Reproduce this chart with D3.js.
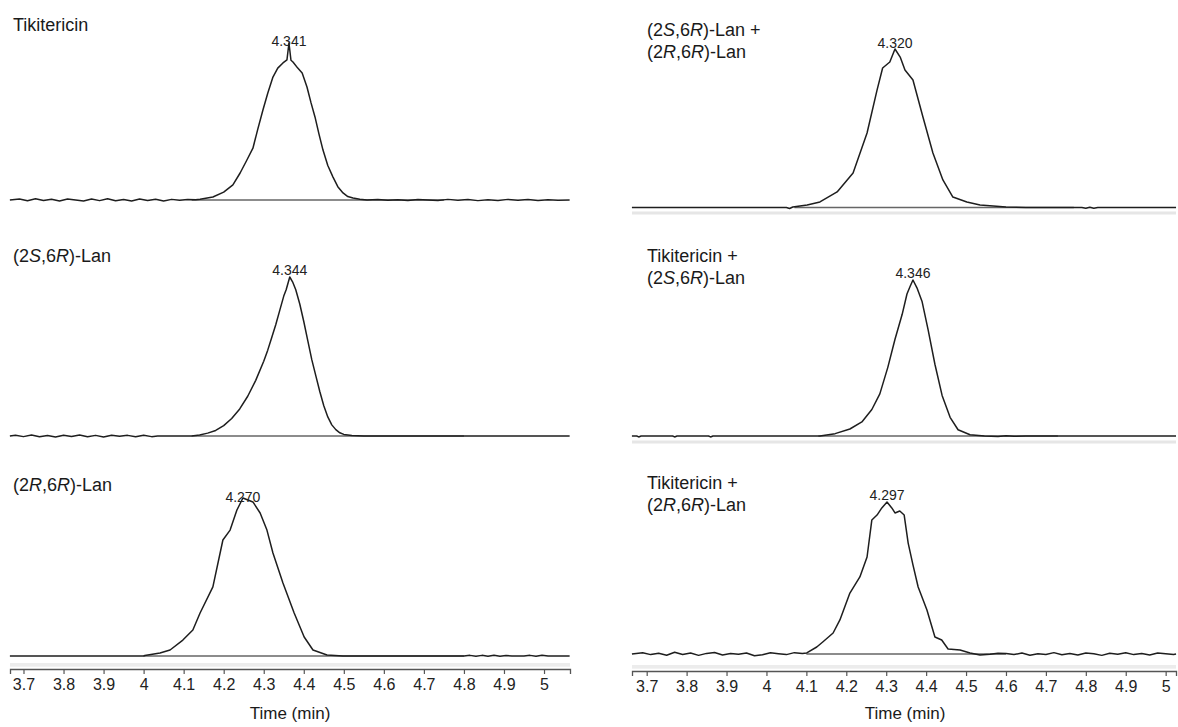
<!DOCTYPE html>
<html>
<head>
<meta charset="utf-8">
<script src="https://cdn.jsdelivr.net/npm/d3@7"></script>
<style>
  body { margin: 0; background: #fff; }
  text { font-family: "Liberation Sans", Arial, sans-serif; }
</style>
</head>
<body>
<svg id="chart" width="1178" height="727"></svg>
<script>
// tick labels of the time axis (min)
const timeTicks = [3.7, 3.8, 3.9, 4.0, 4.1, 4.2, 4.3, 4.4, 4.5, 4.6, 4.7, 4.8, 4.9, 5.0];

// traces: [time (min), relative intensity (%)]
const traceTik = [
  [3.666, 0], [3.69, 0.6], [3.71, -0.5], [3.73, 0.8], [3.75, -0.3], [3.77, 0.5], [3.79, -0.6], [3.81, 0.7],
  [3.83, 0], [3.85, -0.7], [3.87, 0.6], [3.89, -0.4], [3.91, 0.8], [3.93, -0.5], [3.95, 0.3], [3.97, -0.7],
  [3.99, 0.6], [4.01, -0.3], [4.03, 0.5], [4.05, -0.6], [4.07, 0.4], [4.09, -0.2], [4.11, 0.3], [4.13, 0.2],
  [4.141, 0.5], [4.173, 1.9], [4.2, 5], [4.223, 9.6], [4.241, 17.2], [4.257, 25], [4.273, 33], [4.285, 45],
  [4.298, 57.3], [4.31, 68], [4.323, 78.3], [4.335, 84], [4.348, 87.3], [4.358, 89.2], [4.363, 100],
  [4.368, 89], [4.373, 87.9], [4.385, 84], [4.396, 80.9], [4.408, 72], [4.418, 62], [4.428, 52.9],
  [4.438, 42], [4.448, 31.8], [4.46, 22], [4.473, 14.6], [4.485, 8.5], [4.498, 4.5], [4.51, 2.2],
  [4.523, 1.3], [4.54, 0.5], [4.558, 0], [4.585, 0.3], [4.61, -0.2], [4.635, 0.2], [4.66, -0.3],
  [4.685, 0.3], [4.71, 0], [4.735, -0.3], [4.76, 0.4], [4.785, -0.2], [4.81, 0.3], [4.835, -0.4],
  [4.86, 0.2], [4.885, -0.3], [4.91, 0.4], [4.935, -0.2], [4.96, 0.3], [4.985, -0.3], [5.01, 0.2],
  [5.035, -0.2], [5.064, 0]
];

const trace2S6R = [
  [3.666, 0], [3.68, 0.5], [3.70, -0.4], [3.72, 0.6], [3.74, -0.5], [3.76, 0.3], [3.78, -0.6], [3.80, 0.5],
  [3.82, -0.3], [3.84, 0.6], [3.86, -0.5], [3.88, 0.4], [3.90, -0.6], [3.92, 0.5], [3.94, -0.2], [3.96, 0.4],
  [3.98, -0.5], [4.00, 0.5], [4.02, -0.4], [4.035, 0], [4.12, 0], [4.14, 0.6], [4.16, 1.8], [4.18, 3.5],
  [4.2, 6.5], [4.22, 11], [4.24, 17], [4.26, 25], [4.28, 35], [4.3, 47], [4.31, 54], [4.32, 62], [4.33, 70],
  [4.34, 79], [4.35, 88], [4.356, 92], [4.365, 100], [4.372, 97], [4.38, 92], [4.39, 83], [4.4, 72],
  [4.41, 60], [4.42, 48], [4.43, 38], [4.44, 28], [4.45, 19], [4.46, 12], [4.47, 7], [4.48, 4],
  [4.49, 2], [4.5, 1], [4.52, 0.3], [4.55, 0], [5.064, 0]
];

const trace2R6R = [
  [3.666, 0], [4.0, 0], [4.003, 0.3], [4.041, 1.9], [4.066, 3.8], [4.098, 10.1], [4.123, 16.5],
  [4.141, 27.2], [4.173, 43.7], [4.198, 73.4], [4.216, 79.7], [4.233, 92.4], [4.248, 100], [4.273, 97.5],
  [4.291, 90.5], [4.308, 79.7], [4.323, 65.2], [4.348, 46.2], [4.376, 27.2], [4.401, 12], [4.423, 3.8],
  [4.458, 0.6], [4.498, 0], [4.8, 0], [4.815, 0.4], [4.83, -0.2], [4.845, 0.4], [4.86, -0.1], [4.875, 0.5],
  [4.89, -0.2], [4.905, 0.3], [4.92, 0], [4.95, 0], [4.965, 0.4], [4.98, -0.2], [4.995, 0.5], [5.01, 0],
  [5.064, 0]
];

const traceMix1 = [
  [3.663, 0], [4.05, 0], [4.058, -0.6], [4.066, 0.3], [4.102, 1.6], [4.134, 3.5], [4.177, 9.8],
  [4.217, 21.8], [4.252, 47], [4.277, 74.1], [4.291, 88], [4.309, 91.8], [4.322, 100], [4.335, 94.9],
  [4.347, 86.7], [4.367, 80.4], [4.392, 57.1], [4.417, 34.4], [4.442, 17.4], [4.467, 6.6],
  [4.502, 3.5], [4.535, 1.6], [4.568, 0.9], [4.6, 0.3], [4.65, 0], [4.79, 0], [4.8, -0.5], [4.81, 0.2],
  [4.82, -0.5], [4.83, 0], [5.026, 0]
];

const traceMix2 = [
  [3.663, 0], [3.675, 0], [3.68, -0.6], [3.686, 0], [3.765, 0], [3.77, -0.6], [3.776, 0], [3.855, 0],
  [3.86, -0.6], [3.866, 0], [4.12, 0], [4.134, 0], [4.172, 1.5], [4.209, 4.5], [4.239, 9], [4.264, 17],
  [4.284, 27], [4.304, 44], [4.322, 62], [4.34, 78], [4.352, 91], [4.36, 96], [4.367, 100],
  [4.377, 95], [4.39, 86], [4.405, 68], [4.422, 46], [4.44, 26], [4.46, 12], [4.48, 4],
  [4.51, 0.8], [4.546, 0], [4.58, -0.3], [4.6, 0.2], [4.62, -0.2], [4.65, 0], [5.026, 0]
];

const traceMix3 = [
  [3.663, 0], [3.69, 0.8], [3.71, -0.4], [3.73, 0.5], [3.75, -0.8], [3.77, 1.2], [3.79, -0.3], [3.81, 0.6],
  [3.83, -0.9], [3.85, 0.4], [3.87, 1.0], [3.89, -0.6], [3.91, 0.3], [3.93, -0.2], [3.95, 0.7], [3.97, -1.2],
  [3.99, -0.5], [4.01, 0.8], [4.03, 0.2], [4.05, -0.4], [4.07, 0.9], [4.09, 0.3], [4.101, 0.7],
  [4.126, 4.6], [4.141, 7.9], [4.167, 13.8], [4.184, 22.4], [4.209, 40.1], [4.234, 50.7], [4.252, 63.8],
  [4.264, 88.2], [4.277, 91.4], [4.289, 96.1], [4.302, 100], [4.314, 96.1], [4.322, 92.8], [4.334, 94.1],
  [4.345, 91.4], [4.355, 73], [4.367, 58.6], [4.38, 44.1], [4.402, 28.9], [4.422, 11.2], [4.439, 9.2],
  [4.455, 3.3], [4.485, 2.6], [4.51, 0.7], [4.535, -0.7], [4.56, -0.2], [4.58, 0.5], [4.6, 0.3],
  [4.62, -0.4], [4.64, 0.6], [4.66, -0.8], [4.68, 0.2], [4.70, -0.3], [4.72, 0.9], [4.74, -0.5],
  [4.76, 0.4], [4.78, -0.6], [4.80, 0.7], [4.82, 0.1], [4.84, -0.9], [4.86, 0.5], [4.88, -0.2],
  [4.90, 0.8], [4.92, -0.4], [4.94, 0.3], [4.96, -0.7], [4.98, 0.6], [5.00, 0.2], [5.02, -0.3], [5.026, 0]
];

// integration baselines: [start, end] (min)
const integTik = [4.12, 4.75];
const integ2S6R = [4.12, 4.8];
const integ2R6R = [4.0, 4.8];
const integMix1 = [4.07, 4.77];
const integMix2 = [4.13, 4.73];
const integMix3 = [4.1, 4.6];

// peak apex labels
const peakLabels = ["4.341", "4.344", "4.270", "4.320", "4.346", "4.297"];

// panel titles: lines of [text, italic]
const titles = [
  [[["Tikitericin", 0]]],
  [[["(2", 0], ["S", 1], [",6", 0], ["R", 1], [")-Lan", 0]]],
  [[["(2", 0], ["R", 1], [",6", 0], ["R", 1], [")-Lan", 0]]],
  [[["(2", 0], ["S", 1], [",6", 0], ["R", 1], [")-Lan +", 0]],
   [["(2", 0], ["R", 1], [",6", 0], ["R", 1], [")-Lan", 0]]],
  [[["Tikitericin +", 0]],
   [["(2", 0], ["S", 1], [",6", 0], ["R", 1], [")-Lan", 0]]],
  [[["Tikitericin +", 0]],
   [["(2", 0], ["R", 1], [",6", 0], ["R", 1], [")-Lan", 0]]]
];

const traces = [traceTik, trace2S6R, trace2R6R, traceMix1, traceMix2, traceMix3];
const integs = [integTik, integ2S6R, integ2R6R, integMix1, integMix2, integMix3];

// layout
const columns = [
  { range: [10, 570], domain: [3.6663, 5.0649], axisY: 669, labelX: 290, titleX: 13 },
  { range: [632, 1176], domain: [3.6632, 5.0259], axisY: 671, labelX: 905, titleX: 647 }
];
const panelLayout = [
  { col: 0, base: 200, top: 43, titleY: 31, labelDy: 3, frame: null },
  { col: 0, base: 436, top: 277, titleY: 262, labelDy: -2, frame: null },
  { col: 0, base: 656, top: 498, titleY: 491, labelDy: 4, frame: 665 },
  { col: 1, base: 207.5, top: 49, titleY: 36, labelDy: -1, frame: 213 },
  { col: 1, base: 436, top: 280, titleY: 262, labelDy: -2, frame: 442 },
  { col: 1, base: 654, top: 502, titleY: 489, labelDy: -2, frame: 667 }
];

const svg = d3.select("#chart");
svg.append("rect").attr("width", 1178).attr("height", 727).attr("fill", "#fff");

const xScales = columns.map(c => d3.scaleLinear().domain(c.domain).range(c.range));

panelLayout.forEach((p, i) => {
  const x = xScales[p.col];
  const col = columns[p.col];
  const y = d3.scaleLinear().domain([0, 100]).range([p.base, p.top]);
  const g = svg.append("g");

  if (p.frame !== null) {
    g.append("line")
      .attr("x1", col.range[0]).attr("x2", col.range[1])
      .attr("y1", p.frame).attr("y2", p.frame)
      .attr("stroke", "#e6e6e6").attr("stroke-width", 3);
  }

  // integration baseline
  g.append("line")
    .attr("x1", x(integs[i][0])).attr("x2", x(integs[i][1]))
    .attr("y1", y(0)).attr("y2", y(0))
    .attr("stroke", "#666").attr("stroke-width", 1.4);

  const line = d3.line().x(d => x(d[0])).y(d => y(d[1]));
  g.append("path")
    .datum(traces[i])
    .attr("d", line)
    .attr("fill", "none")
    .attr("stroke", "#1e1e1e")
    .attr("stroke-width", 1.5)
    .attr("stroke-linejoin", "round");

  // apex label
  const apex = traces[i].reduce((a, b) => (b[1] > a[1] ? b : a));
  g.append("text")
    .attr("x", x(apex[0]))
    .attr("y", y(100) + p.labelDy)
    .attr("text-anchor", "middle")
    .attr("font-size", 14)
    .attr("fill", "#222")
    .text(peakLabels[i]);

  // title
  titles[i].forEach((ln, k) => {
    const t = g.append("text")
      .attr("x", col.titleX)
      .attr("y", p.titleY + k * 22)
      .attr("font-size", 18)
      .attr("fill", "#1a1a1a");
    ln.forEach(([s, it]) => {
      t.append("tspan").attr("font-style", it ? "italic" : "normal").text(s);
    });
  });
});

// axes
columns.forEach((c, ci) => {
  const x = xScales[ci];
  svg.append("rect")
    .attr("x", c.range[0]).attr("width", c.range[1] - c.range[0])
    .attr("y", c.axisY - 6).attr("height", 3)
    .attr("fill", "#ececec");

  const ax = svg.append("g")
    .attr("transform", `translate(0,${c.axisY})`)
    .call(d3.axisBottom(x)
      .tickValues(timeTicks)
      .tickFormat(d3.format("~g"))
      .tickSizeOuter(0)
      .tickSize(5)
      .tickPadding(5));
  ax.select(".domain").attr("stroke", "#555").attr("stroke-width", 1.3);
  ax.selectAll(".tick line").attr("stroke", "#555").attr("stroke-width", 1.2);
  ax.selectAll(".tick text")
    .attr("font-size", 16)
    .attr("fill", "#222")
    .style("font-family", "'Liberation Sans', Arial, sans-serif");

  svg.append("text")
    .attr("x", c.labelX)
    .attr("y", 719)
    .attr("text-anchor", "middle")
    .attr("font-size", 17)
    .attr("fill", "#1a1a1a")
    .text("Time (min)");
});
</script>
</body>
</html>
